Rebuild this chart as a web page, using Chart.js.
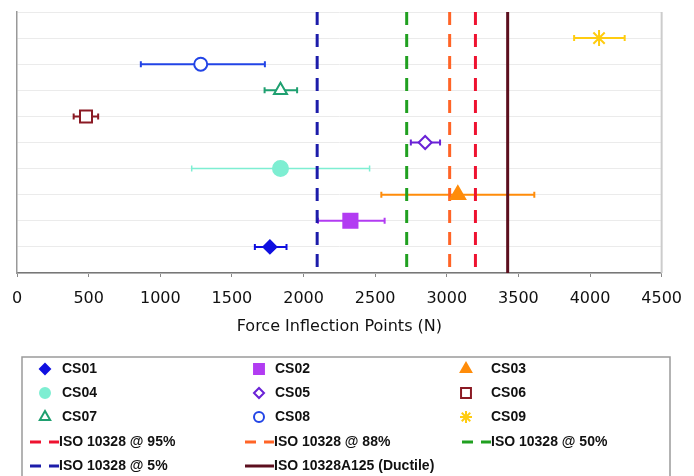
<!DOCTYPE html>
<html>
<head>
<meta charset="utf-8">
<title>Force Inflection Points</title>
<script src="https://cdn.jsdelivr.net/npm/chart.js@4/dist/chart.umd.min.js"></script>
<style>
  body { margin: 0; background: #fff; }
  canvas { display: block; }
</style>
</head>
<body>
<canvas id="myChart" width="694" height="476"></canvas>
<script>
// specimens: mean force and spread (N), one row each from the bottom up
var specimens = ['CS01', 'CS02', 'CS03', 'CS04', 'CS05', 'CS06', 'CS07', 'CS08', 'CS09'];
var rows = [1, 2, 3, 4, 5, 6, 7, 8, 9];
var means = [1765, 2327, 3077, 1839, 2849, 481, 1839, 1282, 4063];
var lows = [1660, 2101, 2543, 1219, 2749, 395, 1728, 864, 3889];
var highs = [1881, 2566, 3611, 2461, 2953, 566, 1955, 1730, 4242];

// ISO 10328 reference levels (N)
var isoLabels = ['ISO 10328 @ 95%', 'ISO 10328 @ 88%', 'ISO 10328 @ 50%', 'ISO 10328 @ 5%', 'ISO 10328A125 (Ductile)'];
var isoValues = [3200, 3020, 2720, 2095, 3425];

var xTicks = [0, 500, 1000, 1500, 2000, 2500, 3000, 3500, 4000, 4500];

var styles = [
  { color: '#1010e0', shape: 'rectRot', r: 6.5, fill: true, legendR: 5 },
  { color: '#b23cf2', shape: 'rect', r: 10, fill: true, legendR: 7 },
  { color: '#ff8c0a', shape: 'triangle', r: 8.5, fill: true, legendR: 6 },
  { color: '#7eeed2', shape: 'circle', r: 7.5, fill: true, legendR: 5, lw: 1.5 },
  { color: '#6a22d6', shape: 'rectRot', r: 6.5, fill: false, legendR: 5 },
  { color: '#8b1a24', shape: 'rect', r: 8.5, fill: false, legendR: 7 },
  { color: '#1fa070', shape: 'triangle', r: 7.5, fill: false, legendR: 6 },
  { color: '#2244e6', shape: 'circle', r: 6.5, fill: false, legendR: 5 },
  { color: '#ffcc10', shape: 'star', r: 8, fill: false, legendR: 6 }
];
var isoStyles = [
  { color: '#ee1230', dash: [13, 9] },
  { color: '#ff6426', dash: [13, 9] },
  { color: '#20a020', dash: [13, 9] },
  { color: '#1c1caa', dash: [13, 9] },
  { color: '#5c0f1e', dash: [] }
];

var datasets = [];
specimens.forEach(function (name, i) {
  var s = styles[i];
  datasets.push({
    type: 'scatter',
    label: name,
    data: [{ x: means[i], y: rows[i] }],
    low: lows[i],
    high: highs[i],
    barWidth: s.lw || 2,
    legendR: s.legendR,
    pointStyle: s.shape,
    pointRadius: s.r,
    pointHoverRadius: s.r,
    pointBorderWidth: 2,
    borderColor: s.color,
    backgroundColor: s.fill ? s.color : '#ffffff',
    pointBackgroundColor: s.fill ? s.color : '#ffffff'
  });
});
isoLabels.forEach(function (name, i) {
  var s = isoStyles[i];
  datasets.push({
    type: 'line',
    label: name,
    data: [{ x: isoValues[i], y: 10 }, { x: isoValues[i], y: 0 }],
    borderColor: s.color,
    backgroundColor: s.color,
    borderWidth: 3,
    borderDash: s.dash,
    pointRadius: 0,
    fill: false
  });
});

// horizontal error bars with end caps
var errorBars = {
  id: 'errorBars',
  beforeDatasetsDraw: function (chart) {
    var ctx = chart.ctx, xs = chart.scales.x, ys = chart.scales.y;
    chart.data.datasets.forEach(function (ds) {
      if (ds.low === undefined) return;
      var y = ys.getPixelForValue(ds.data[0].y);
      var x1 = xs.getPixelForValue(ds.low), x2 = xs.getPixelForValue(ds.high);
      ctx.save();
      ctx.strokeStyle = ds.borderColor;
      ctx.lineWidth = ds.barWidth;
      ctx.beginPath();
      ctx.moveTo(x1, y); ctx.lineTo(x2, y);
      ctx.moveTo(x1, y - 3); ctx.lineTo(x1, y + 3);
      ctx.moveTo(x2, y - 3); ctx.lineTo(x2, y + 3);
      ctx.stroke();
      ctx.restore();
    });
  },
  afterDraw: function (chart) {
    var ctx = chart.ctx, a = chart.chartArea;
    ctx.save();
    ctx.strokeStyle = '#cccccc';
    ctx.lineWidth = 2;
    ctx.beginPath();
    ctx.moveTo(a.right, a.top); ctx.lineTo(a.right, a.bottom);
    ctx.stroke();
    ctx.restore();
  }
};

// boxed legend, three columns
var boxLegend = {
  id: 'boxLegend',
  afterDraw: function (chart) {
    var ctx = chart.ctx;
    var colMarker = [45, 259, 466], colText = [62, 275, 491], colLine = [30, 245, 462];
    var rowY = [369, 393, 417, 442, 466];
    ctx.save();
    ctx.strokeStyle = '#9a9a9a';
    ctx.lineWidth = 1.5;
    ctx.strokeRect(22, 357, 648, 125);
    ctx.font = 'bold 14px "Liberation Sans", Arial, sans-serif';
    ctx.textBaseline = 'middle';
    ctx.fillStyle = '#111';
    chart.data.datasets.forEach(function (ds, i) {
      var c = i % 3, r = Math.floor(i / 3), y = rowY[r];
      if (ds.type === 'scatter') {
        ctx.strokeStyle = ds.borderColor;
        ctx.fillStyle = ds.pointBackgroundColor;
        ctx.lineWidth = 2;
        Chart.helpers.drawPoint(ctx, { pointStyle: ds.pointStyle, radius: ds.legendR, borderWidth: 2 }, colMarker[c], y);
        ctx.fillStyle = '#111';
        ctx.fillText(ds.label, colText[c], y);
      } else {
        ctx.strokeStyle = ds.borderColor;
        ctx.lineWidth = 3;
        ctx.setLineDash(ds.borderDash.length ? [11, 8] : []);
        ctx.beginPath();
        ctx.moveTo(colLine[c], y); ctx.lineTo(colLine[c] + 29, y);
        ctx.stroke();
        ctx.setLineDash([]);
        ctx.fillStyle = '#111';
        ctx.fillText(ds.label, colLine[c] + 29, y);
      }
    });
    ctx.restore();
  }
};

var ctx = document.getElementById('myChart').getContext('2d');
var mychart = new Chart(ctx, {
  type: 'scatter',
  data: { datasets: datasets },
  plugins: [errorBars, boxLegend],
  options: {
    responsive: false,
    animation: false,
    layout: { padding: { left: 0, right: 32, top: 7, bottom: 136 } },
    plugins: { legend: { display: false }, tooltip: { enabled: false } },
    scales: {
      x: {
        type: 'linear',
        min: 0,
        max: 4500,
        afterBuildTicks: function (scale) {
          scale.ticks = xTicks.map(function (v) { return { value: v }; });
        },
        afterFit: function (scale) { scale.height = 67; },
        grid: { drawOnChartArea: false, drawTicks: true, tickLength: 4, color: '#888' },
        border: { color: '#777', width: 1.5 },
        ticks: {
          padding: 12,
          color: '#111',
          font: { family: '"DejaVu Sans", sans-serif', size: 16 },
          callback: function (v) { return String(v); }
        },
        title: {
          display: true,
          text: 'Force Inflection Points (N)',
          color: '#111',
          padding: { top: 4, bottom: 4 },
          font: { family: '"DejaVu Sans", sans-serif', size: 16 }
        }
      },
      y: {
        type: 'linear',
        min: 0,
        max: 10,
        ticks: { display: false, stepSize: 1 },
        afterFit: function (scale) { scale.width = 16; },
        grid: { color: '#ebebeb', drawTicks: false },
        border: { color: '#999', width: 1.5 }
      }
    }
  }
});
</script>
</body>
</html>
